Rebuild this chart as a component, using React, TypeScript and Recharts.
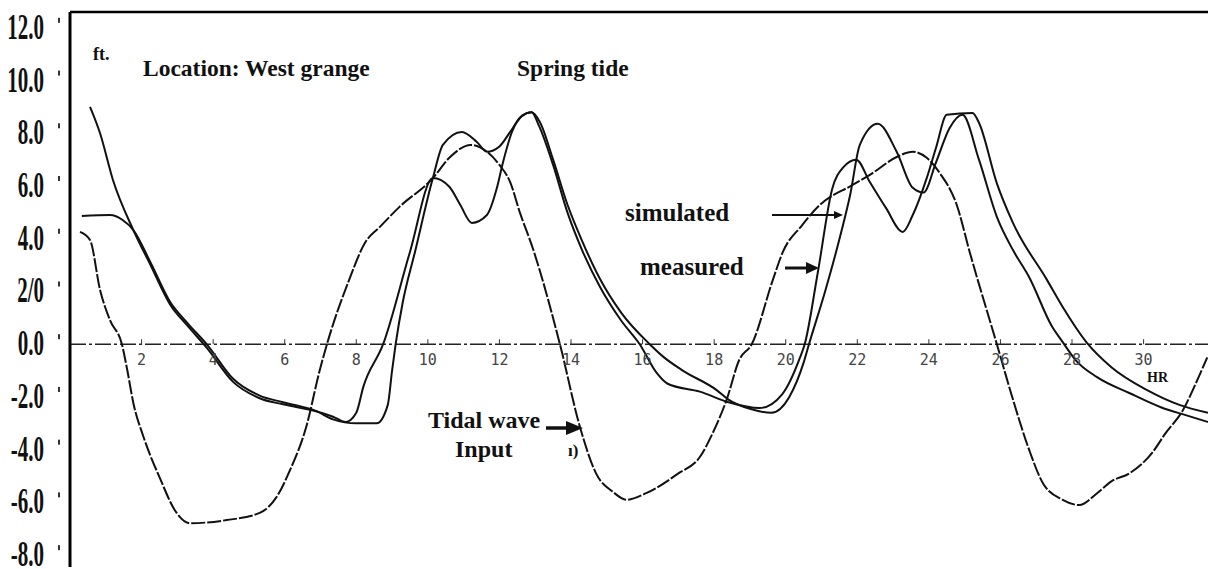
import { LineChart, Line, XAxis, YAxis, ReferenceLine, ReferenceDot } from 'recharts'

// axis
const yDomain = [-8.45, 12.6]
const xDomain = [0, 31.8]
const yTicks = [12, 10, 8, 6, 4, 2, 0, -2, -4, -6, -8]
const yLabels = ['12.0', '10.0', '8.0', '6.0', '4.0', '2/0', '0.0', '-2.0', '-4.0', '-6.0', '-8.0']
const hourTicks = [2, 4, 6, 8, 10, 12, 14, 16, 18, 20, 22, 24, 26, 28, 30]

// tidal wave input (ft vs hours)
const tidalHr = [0.28, 0.56, 0.84, 1.12, 1.45, 1.6, 1.77, 2.05, 2.5, 2.98, 3.35, 4.38, 5.3, 5.77, 6.15, 6.6, 6.98, 7.18, 7.8, 8.24, 8.66, 9.2, 10.14, 10.6, 11.2, 11.65, 12.0, 12.3, 12.57, 12.93, 13.69, 14.25, 14.7, 15.17, 15.55, 16.1, 17.0, 17.6, 17.96, 18.35, 18.7, 19.05, 19.64, 19.92, 20.45, 20.95, 21.87, 22.35, 23.1, 23.55, 23.94, 24.3, 24.78, 25.14, 25.9, 26.35, 26.8, 27.2, 27.74, 28.2, 28.7, 29.1, 29.6, 30.25, 30.6, 31.1, 31.5, 31.78]
const tidalFt = [4.26, 3.95, 2.06, 0.9, 0, -0.98, -2.23, -3.5, -5.04, -6.4, -6.79, -6.67, -6.4, -5.8, -4.77, -3.14, -0.98, 0, 2.44, 3.84, 4.45, 5.2, 6.3, 7.07, 7.56, 7.3, 6.8, 6.15, 5.0, 3.65, 0, -3.14, -4.9, -5.6, -5.9, -5.65, -4.9, -4.28, -3.37, -2.1, -0.6, 0, 2.44, 3.5, 4.5, 5.28, 6.04, 6.42, 7.1, 7.3, 7.07, 6.5, 5.28, 3.5, 0, -2.1, -4.0, -5.3, -5.9, -6.1, -5.65, -5.2, -4.9, -4.1, -3.4, -2.5, -1.36, -0.5]

// simulated
const simHr = [0.33, 1.12, 1.48, 1.77, 2.25, 2.8, 3.27, 3.85, 4.55, 5.3, 5.95, 6.9, 7.35, 8.0, 8.57, 8.88, 9.0, 9.1, 9.3, 9.64, 10.14, 10.42, 10.95, 11.37, 11.65, 12.0, 12.3, 12.63, 12.9, 13.13, 13.5, 13.9, 14.3, 14.8, 15.4, 16.2, 16.6, 17.1, 18.07, 18.4, 19.0, 19.6, 20.1, 20.5, 20.65, 21.1, 21.56, 21.8, 22.07, 22.57, 23.1, 23.55, 23.85, 24.2, 24.58, 24.94, 25.4, 25.9, 26.35, 26.8, 27.45, 27.74, 28.1, 28.7, 29.6, 30.5, 31.2, 31.8]
const simFt = [4.86, 4.9, 4.7, 4.33, 3.1, 1.6, 0.82, -0.05, -1.3, -1.95, -2.2, -2.55, -2.85, -3.0, -3.0, -2.3, -1.0, 0, 1.6, 3.5, 6.3, 7.56, 8.05, 7.67, 7.3, 7.5, 8.05, 8.66, 8.8, 8.43, 7.0, 5.3, 3.95, 2.5, 1.2, 0, -0.5, -0.98, -1.74, -2.1, -2.45, -2.6, -2.0, -0.7, 0, 2.0, 4.3, 5.66, 7.56, 8.36, 7.3, 5.93, 5.75, 6.9, 8.2, 8.7, 7.0, 4.83, 3.57, 2.55, 0.65, 0.08, -0.6, -1.25, -1.85, -2.4, -2.7, -2.95]

// measured
const measHr = [0.56, 0.84, 1.2, 1.77, 2.25, 2.8, 3.27, 3.83, 4.55, 5.3, 5.95, 6.9, 7.35, 7.7, 8.0, 8.2, 8.75, 9.5, 10.14, 10.6, 10.9, 11.23, 11.65, 11.93, 12.1, 12.35, 12.63, 12.9, 13.1, 13.5, 13.9, 14.3, 14.8, 15.4, 15.92, 16.4, 16.7, 17.6, 18.4, 19.27, 19.9, 20.4, 20.53, 20.9, 21.3, 21.6, 21.97, 22.35, 22.8, 23.27, 23.55, 23.94, 24.2, 24.5, 25.22, 25.4, 25.9, 26.35, 27.3, 27.74, 28.4, 29.1, 30.1, 31.0, 31.8]
const measFt = [9.0, 8.0, 6.23, 4.33, 3.0, 1.5, 0.72, -0.15, -1.42, -2.05, -2.28, -2.55, -2.75, -2.95, -2.6, -1.6, 0, 3.5, 6.3, 5.97, 5.3, 4.6, 4.9, 5.93, 6.9, 8.05, 8.66, 8.8, 8.3, 6.8, 5.0, 3.6, 2.2, 0.9, 0, -1.1, -1.5, -1.8, -2.2, -2.42, -1.9, -0.5, 0, 2.75, 5.9, 6.7, 7.0, 6.15, 5.17, 4.26, 4.9, 6.3, 7.45, 8.7, 8.77, 8.4, 6.1, 4.6, 2.44, 1.41, 0.08, -0.87, -1.74, -2.3, -2.6]

const toPoints = (hr: number[], ft: number[]) => hr.map((h, i) => ({ h, v: ft[i] }))
const tidal = toPoints(tidalHr, tidalFt)
const simulated = toPoints(simHr, simFt)
const measured = toPoints(measHr, measFt)

const serif = '"Liberation Serif", "Times New Roman", serif'
const ink = '#111'

function YTick(props: any) {
  const { y, payload } = props
  const label = yLabels[yTicks.indexOf(payload.value)]
  return (
    <g>
      <rect x={58} y={y - 10} width={2} height={5} fill="#333" />
      <text
        transform={`translate(44 ${y + 11}) scale(0.6 1)`}
        textAnchor="end"
        fontFamily={serif}
        fontWeight="bold"
        fontSize={35}
        fill={ink}
      >
        {label}
      </text>
    </g>
  )
}

function HourMark({ cx, cy, label }: any) {
  return (
    <g>
      <line x1={cx} x2={cx} y1={cy - 5} y2={cy} stroke="#333" strokeWidth={1} />
      <text x={cx} y={cy + 21} textAnchor="middle" fontFamily='"DejaVu Sans Mono", monospace' fontSize={15} fill="#444">
        {label}
      </text>
    </g>
  )
}

export default function App() {
  return (
    <div style={{ position: 'absolute', left: 0, top: 0, width: 1208, height: 569, background: '#fff' }}>
      <LineChart width={1208} height={569} margin={{ top: 12, right: 0, bottom: 2, left: 0 }}>
        <XAxis
          dataKey="h"
          type="number"
          domain={xDomain}
          allowDataOverflow
          tick={false}
          tickLine={false}
          height={0}
          axisLine={{ stroke: '#000', strokeWidth: 3 }}
        />
        <YAxis
          type="number"
          domain={yDomain}
          allowDataOverflow
          ticks={yTicks}
          interval={0}
          tick={<YTick />}
          tickLine={false}
          width={70}
          axisLine={{ stroke: '#000', strokeWidth: 3 }}
        />
        <ReferenceLine y={yDomain[1]} stroke="#000" strokeWidth={2.5} />
        <ReferenceLine y={0} stroke="#222" strokeWidth={1.6} strokeDasharray="16 3 3 3" />
        {hourTicks.map((t) => (
          <ReferenceDot key={t} x={t} y={0} r={1} shape={(p: any) => <HourMark {...p} label={String(t)} />} />
        ))}
        <Line data={tidal} dataKey="v" type="monotone" stroke={ink} strokeWidth={2} strokeDasharray="14 2" dot={false} isAnimationActive={false} />
        <Line data={simulated} dataKey="v" type="monotone" stroke={ink} strokeWidth={2} dot={false} isAnimationActive={false} />
        <Line data={measured} dataKey="v" type="monotone" stroke={ink} strokeWidth={2} dot={false} isAnimationActive={false} />
      </LineChart>

      <svg width={1208} height={569} style={{ position: 'absolute', left: 0, top: 0, pointerEvents: 'none' }}>
        <g fontFamily={serif} fontWeight="bold" fill={ink}>
          <text x={93} y={60} fontSize={18}>ft.</text>
          <text x={143} y={76} fontSize={23.5}>Location: West grange</text>
          <text x={517} y={76} fontSize={23.5}>Spring tide</text>
          <text x={625} y={221} fontSize={25}>simulated</text>
          <text x={640} y={275} fontSize={25}>measured</text>
          <text x={428} y={428} fontSize={24}>Tidal wave</text>
          <text x={455} y={457} fontSize={24}>Input</text>
          <text x={1147} y={382} fontSize={14}>HR</text>
          <text x={568} y={456} fontSize={17}>ı)</text>
        </g>
        <line x1={772} x2={836} y1={215} y2={215} stroke={ink} strokeWidth={2} />
        <polygon points="834,211 843,215 834,219" fill={ink} />
        <line x1={785} x2={808} y1={268} y2={268} stroke={ink} strokeWidth={3} />
        <polygon points="806,262 819,268 806,274" fill={ink} />
        <line x1={546} x2={568} y1={428} y2={428} stroke={ink} strokeWidth={3.5} />
        <polygon points="566,421 583,428 566,435" fill={ink} />
      </svg>
    </div>
  )
}
